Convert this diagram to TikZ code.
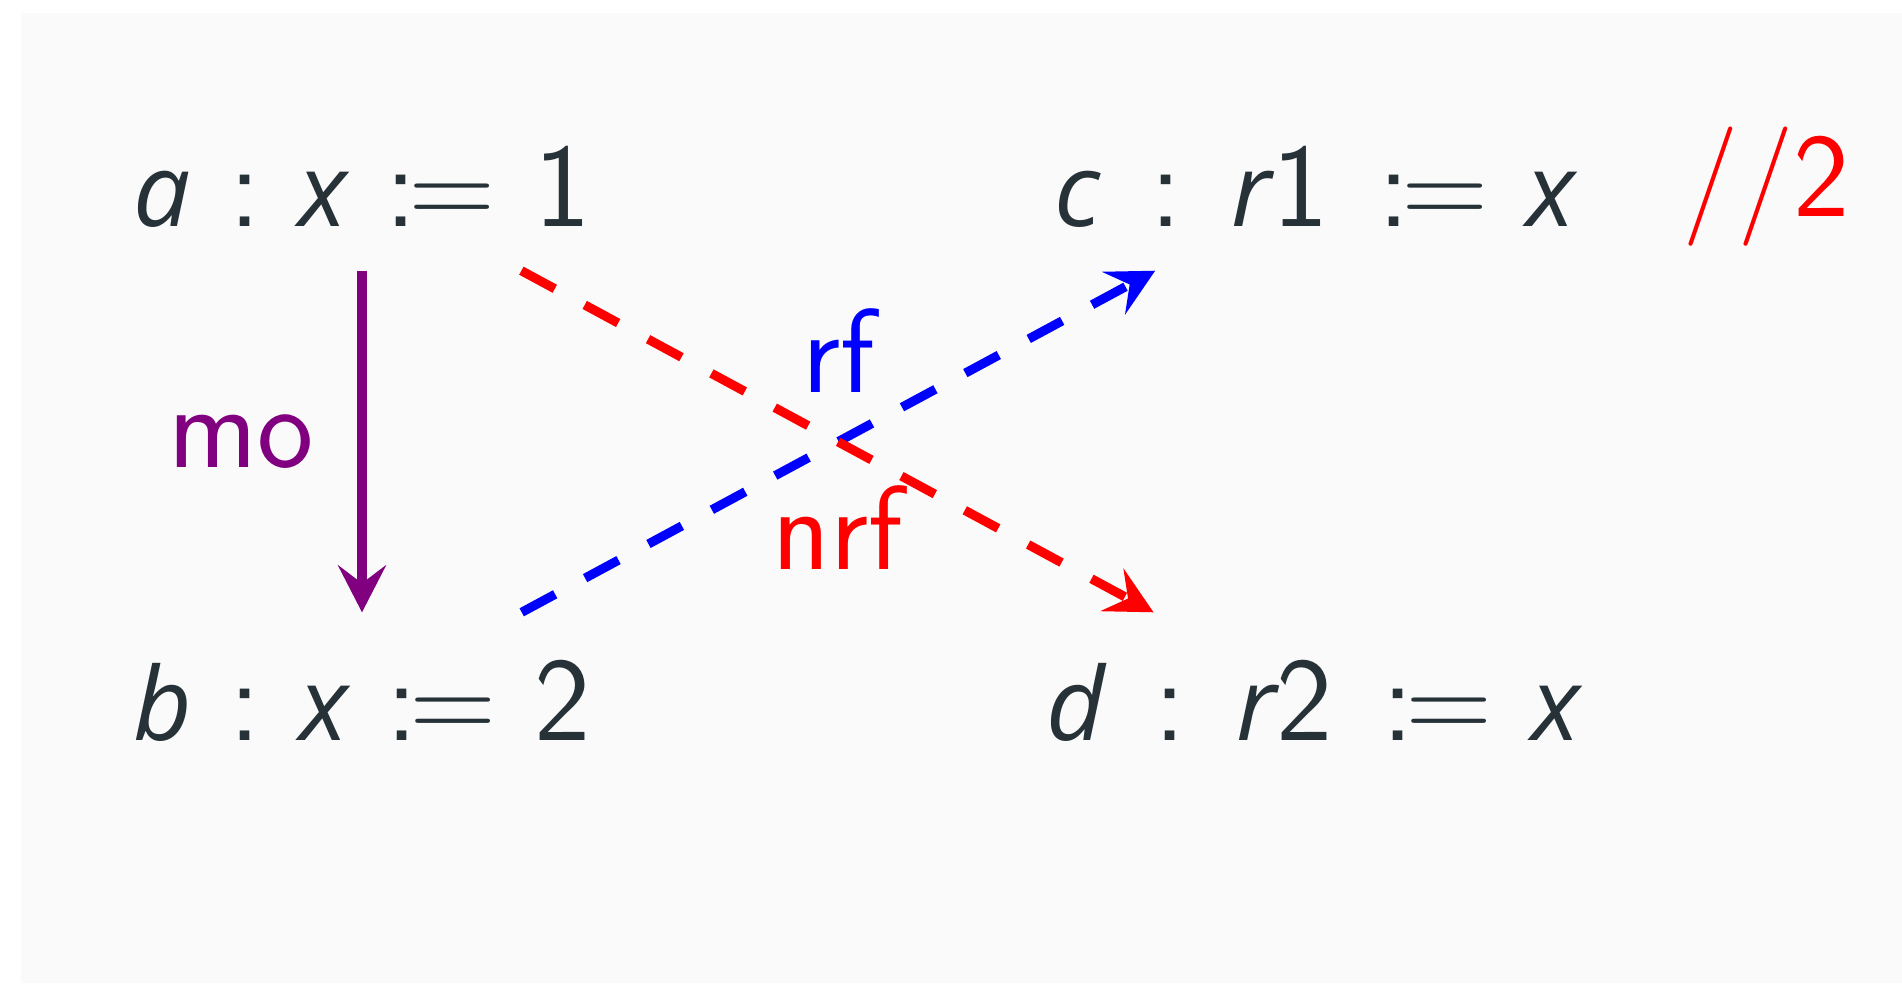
\documentclass[tikz,border=0pt]{standalone}
\usepackage{fontspec}
\usetikzlibrary{arrows.meta,positioning}
\newfontfamily\varfont[Scale=0.85]{Open Sans}
\definecolor{slate}{RGB}{38,50,56}
\definecolor{paper}{RGB}{250,250,250}
\definecolor{mopurple}{RGB}{128,0,128}
\definecolor{rfblue}{RGB}{0,0,255}
\definecolor{nrfred}{RGB}{255,0,0}
\newcommand{\mv}[1]{{\varfont\itshape #1}}
\newcommand{\rsp}{\hspace{0.32em}}
\newcommand{\wsp}{\hspace{0.42em}}
\newcommand{\asgn}{:\kern-0.07em=}
\tikzset{
  >={Stealth[length=4.7mm,width=4.8mm,inset=1.8mm]},
  bigfont/.style={font=\sffamily\fontsize{34}{40}\selectfont},
  stmt/.style={bigfont,text=slate,inner xsep=2mm,inner ysep=4.4mm,
    text height=8.3mm,text depth=0mm},
  rel/.style={->,line width=2.6pt,draw=#1},
  rel/.default=mopurple,
  weak/.style={rel=#1,dash pattern=on 3.8mm off 3.4mm},
  lbl/.style={bigfont,text=#1,inner sep=0pt},
}
\begin{document}
\begin{tikzpicture}
  \useasboundingbox (0,0) rectangle (19.02,9.83);
  \fill[paper] (0.21,0) rectangle (19.02,9.70);
  % events
  \node[stmt] (a) at (3.62,7.985) {\mv{a}\rsp:\rsp\mv{x}\rsp\asgn\rsp1};
  \node[stmt] (b) at (3.62,2.845) {\mv{b}\rsp:\rsp\mv{x}\rsp\asgn\rsp2};
  \node[stmt] (c) at (13.15,7.985) {\mv{c}\wsp:\wsp\mv{r}1\wsp\asgn\rsp\mv{x}};
  \node[stmt] (d) at (13.13,2.845) {\mv{d}\wsp:\wsp\mv{r}2\wsp\asgn\rsp\mv{x}};
  \node[lbl=nrfred,anchor=base west] (thr) at (16.83,7.67) {{\rmfamily//}2};
  % relations
  \draw[rel] (a) -- node[lbl=mopurple,left=4.4mm] {mo} (b);
  \draw[weak=rfblue] (b) -- node[lbl=rfblue,above=4.4mm] {rf} (c);
  \draw[weak=nrfred] (a) -- node[lbl=nrfred,below=4mm] {nrf} (d);
\end{tikzpicture}
\end{document}
